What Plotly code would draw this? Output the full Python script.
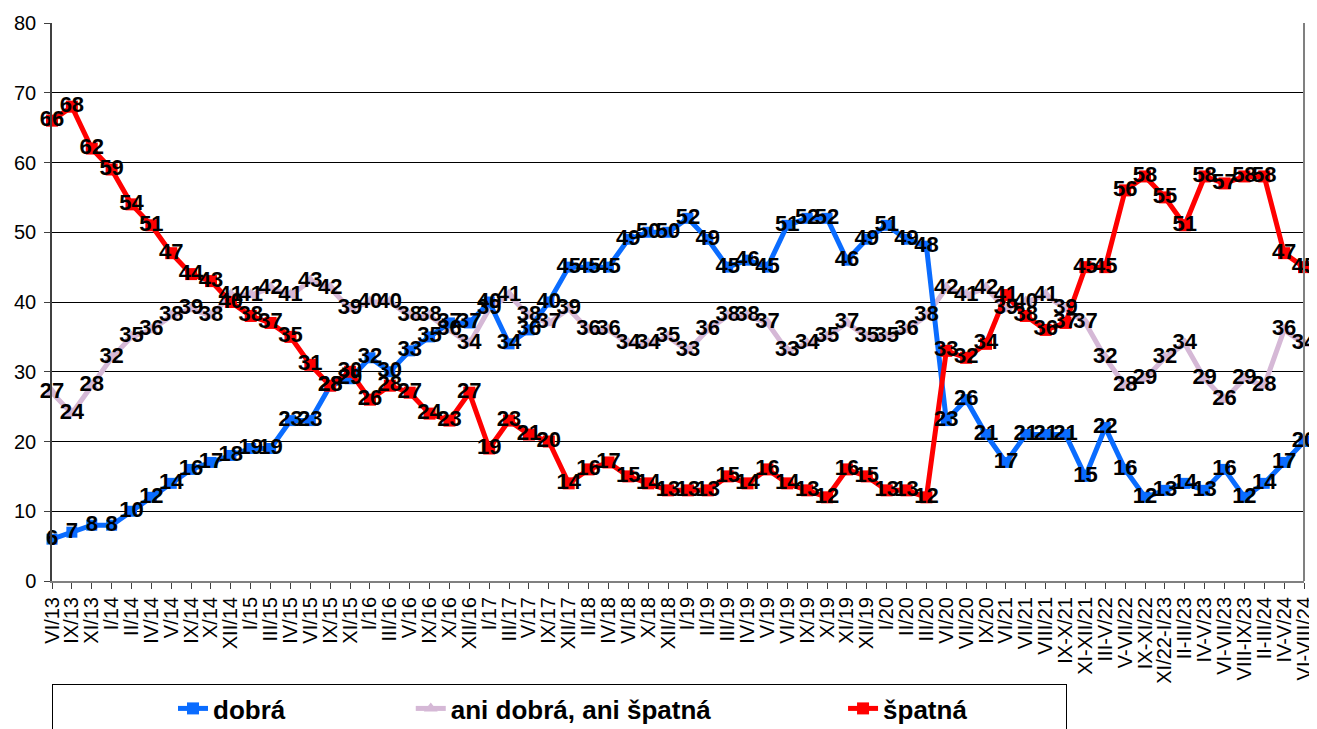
import plotly.graph_objects as go

categories = ["VI/13", "IX/13", "XI/13", "I/14", "II/14", "IV/14", "V/14", "IX/14", "X/14", "XII/14",
              "I/15", "III/15", "IV/15", "VI/15", "IX/15", "XI/15", "I/16", "III/16", "V/16", "IX/16",
              "X/16", "XII/16", "I/17", "III/17", "V/17", "IX/17", "XII/17", "II/18", "IV/18", "VI/18",
              "X/18", "XII/18", "I/19", "II/19", "III/19", "IV/19", "V/19", "VI/19", "IX/19", "X/19",
              "XI/19", "XII/19", "I/20", "II/20", "III/20", "VI/20", "VII/20", "IX/20", "VI/21", "VII/21",
              "VIII/21", "IX-X/21", "XI-XII/21", "III-V/22", "V-VII/22", "IX-XI/22", "XI/22-I/23",
              "II-III/23", "IV-V/23", "VI-VII/23", "VIII-IX/23", "II-III/24", "IV-V/24", "VI-VIII/24"]

dobra = [6, 7, 8, 8, 10, 12, 14, 16, 17, 18, 19, 19, 23, 23, 28, 29, 32, 30, 33, 35,
         37, 37, 40, 34, 36, 40, 45, 45, 45, 49, 50, 50, 52, 49, 45, 46, 45, 51, 52, 52,
         46, 49, 51, 49, 48, 23, 26, 21, 17, 21, 21, 21, 15, 22, 16, 12, 13, 14, 13, 16,
         12, 14, 17, 20]

ani = [27, 24, 28, 32, 35, 36, 38, 39, 38, 41, 41, 42, 41, 43, 42, 39, 40, 40, 38, 38,
       36, 34, 39, 41, 38, 37, 39, 36, 36, 34, 34, 35, 33, 36, 38, 38, 37, 33, 34, 35,
       37, 35, 35, 36, 38, 42, 41, 42, 39, 40, 41, 39, 37, 32, 28, 29, 32, 34, 29, 26,
       29, 28, 36, 34]

spatna = [66, 68, 62, 59, 54, 51, 47, 44, 43, 40, 38, 37, 35, 31, 28, 30, 26, 28, 27, 24,
          23, 27, 19, 23, 21, 20, 14, 16, 17, 15, 14, 13, 13, 13, 15, 14, 16, 14, 13, 12,
          16, 15, 13, 13, 12, 33, 32, 34, 41, 38, 36, 37, 45, 45, 56, 58, 55, 51, 58, 57,
          58, 58, 47, 45]

series_names = ["dobrá", "ani dobrá, ani špatná", "špatná"]
y_ticks = [0, 10, 20, 30, 40, 50, 60, 70, 80]

BLUE = "#0A6CFF"
LILAC = "#D5B8D6"
RED = "#FF0000"
NB = "\u00a0"
FONT = "Arial, 'Liberation Sans', sans-serif"

fig = go.Figure()

# lines (draw order: lilac, blue, red)
fig.add_trace(go.Scatter(x=categories, y=ani, name=series_names[1] + NB * 1, mode="lines+markers",
                         line=dict(color=LILAC, width=5),
                         marker=dict(symbol="triangle-up", size=13, color=LILAC),
                         legendrank=2, cliponaxis=False, hoverinfo="skip"))
fig.add_trace(go.Scatter(x=categories, y=dobra, name=series_names[0], mode="lines+markers",
                         line=dict(color=BLUE, width=5),
                         marker=dict(symbol="square", size=11, color=BLUE),
                         legendrank=1, cliponaxis=False, hoverinfo="skip"))
fig.add_trace(go.Scatter(x=categories, y=spatna, name=series_names[2] + NB * 13, mode="lines+markers",
                         line=dict(color=RED, width=5),
                         marker=dict(symbol="square", size=12, color=RED),
                         legendrank=3, cliponaxis=False, hoverinfo="skip"))

# data labels on top
for vals in (dobra, ani, spatna):
    fig.add_trace(go.Scatter(x=categories, y=vals, mode="text", text=[str(v) for v in vals],
                             textposition="middle center",
                             textfont=dict(family=FONT, size=22, color="black", weight="bold"),
                             showlegend=False, cliponaxis=False, hoverinfo="skip"))

# page has an 8px body margin, so the figure is sized/offset to land on the 1317x729 frame
fig.update_layout(
    width=1309, height=721,
    margin=dict(l=44, r=13, t=15, b=148, autoexpand=False),
    paper_bgcolor="white", plot_bgcolor="white",
    font=dict(family=FONT, color="black"),
    showlegend=True,
    legend=dict(orientation="h", x=0, y=-0.1846, xanchor="left", yanchor="top",
                bordercolor="black", borderwidth=1, bgcolor="white",
                font=dict(family=FONT, size=26, color="black", weight="bold"),
                indentation=120, itemsizing="constant"),
    xaxis=dict(type="category", categoryorder="array", categoryarray=categories,
               tickmode="array", tickvals=categories, ticktext=categories,
               range=[0, len(categories) - 1], tickangle=-90, automargin=False,
               tickfont=dict(family=FONT, size=20, color="black"),
               ticks="outside", ticklen=6, tickcolor="#404040",
               showgrid=False, showline=True, linecolor="#808080", linewidth=2,
               fixedrange=True),
    yaxis=dict(range=[0, 80], tickvals=y_ticks, ticktext=[str(t) for t in y_ticks],
               automargin=False, ticklabelstandoff=4,
               tickfont=dict(family=FONT, size=20, color="black"),
               ticks="outside", ticklen=6, tickcolor="#404040",
               showgrid=True, gridcolor="black", gridwidth=1, zeroline=False,
               showline=True, linecolor="#404040", linewidth=1.5, fixedrange=True),
)

fig.add_shape(type="line", xref="paper", yref="paper", x0=1, x1=1, y0=0, y1=1,
              line=dict(color="#808080", width=2))

fig.write_html("out.html")
